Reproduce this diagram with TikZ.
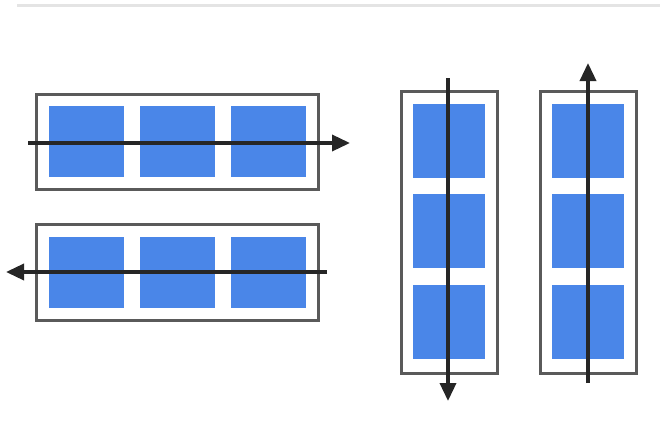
\documentclass[tikz,border=0pt]{standalone}
\usepackage[HTML]{xcolor}
\usepackage{tikz}
\usetikzlibrary{positioning, arrows.meta}
\definecolor{cellblue}{HTML}{4A86E8}
\definecolor{framegray}{HTML}{5A5A5A}
\definecolor{rulegray}{HTML}{E4E4E4}
\tikzset{
  cell/.style={rectangle, fill=cellblue, inner sep=0pt},
  hcell/.style={cell, minimum width=75pt, minimum height=71pt},
  vcell/.style={cell, minimum width=72pt, minimum height=74pt},
  frame/.style={rectangle, draw=framegray, line width=3pt, fill=white, inner sep=0pt},
  flow/.style={line width=3.5pt, draw=black!85, -{Triangle[length=18pt,width=16pt]}}
}

\begin{document}
\begin{tikzpicture}[x=1pt,y=-1pt]
\useasboundingbox (0,0) rectangle (660,428);
% rule at the top
\draw[rulegray, line width=3pt] (17,6) -- (660,6);
% row frames
\node[frame, minimum width=282pt, minimum height=95pt] (rowA) at (177,141.5) {};
\node[frame, minimum width=282pt, minimum height=96pt] (rowB) at (177,272) {};
% column frames
\node[frame, minimum width=96pt, minimum height=282pt] (colA) at (449,232) {};
\node[frame, minimum width=96pt, minimum height=282pt] (colB) at (588,232) {};
% cells, rows
\node[hcell] (rA1) at (86.5,141.5) {};
\node[hcell, right=15.5pt of rA1] (rA2) {};
\node[hcell, right=15.5pt of rA2] (rA3) {};
\node[hcell] (rB1) at (86.5,272) {};
\node[hcell, right=15.5pt of rB1] (rB2) {};
\node[hcell, right=15.5pt of rB2] (rB3) {};
% cells, columns
\node[vcell] (cA1) at (449,140.5) {};
\node[vcell, below=16.5pt of cA1] (cA2) {};
\node[vcell, below=16.5pt of cA2] (cA3) {};
\node[vcell] (cB1) at (588,140.5) {};
\node[vcell, below=16.5pt of cB1] (cB2) {};
\node[vcell, below=16.5pt of cB2] (cB3) {};
% arrow ends
\coordinate (rAin) at (28,143);
\coordinate (rAout) at (350,143);
\coordinate (rBin) at (327,272);
\coordinate (rBout) at (6,272);
\coordinate (cAin) at (448,78);
\coordinate (cAout) at (448,401);
\coordinate (cBin) at (588,383);
\coordinate (cBout) at (588,63);
% reading directions
\draw[flow] (rAin) -- (rAout);
\draw[flow] (rBin) -- (rBout);
\draw[flow] (cAin) -- (cAout);
\draw[flow] (cBin) -- (cBout);
\end{tikzpicture}
\end{document}
